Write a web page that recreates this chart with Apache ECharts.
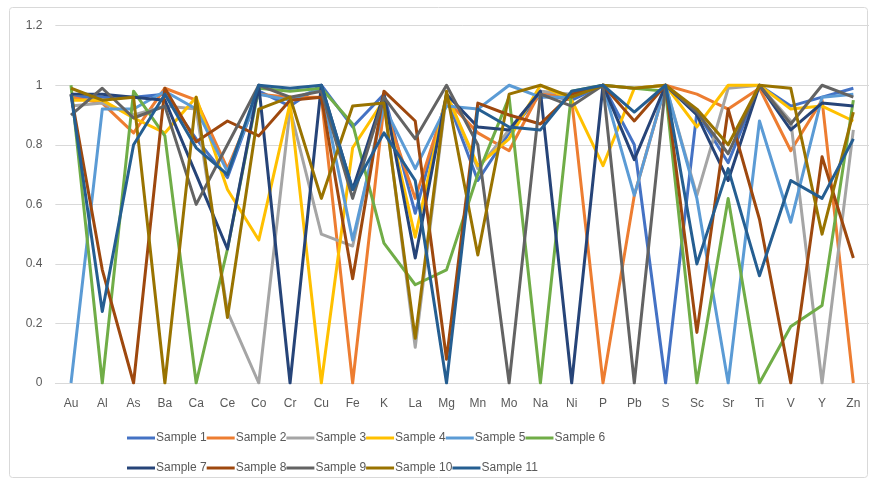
<!DOCTYPE html>
<html>
<head>
<meta charset="utf-8">
<script src="https://cdn.jsdelivr.net/npm/echarts@6/dist/echarts.min.js"></script>
<style>
html,body{margin:0;padding:0;background:#fff;}
#chart{width:876px;height:484px;}
</style>
</head>
<body>
<div id="chart"></div>
<script>
const categories = ["Au","Al","As","Ba","Ca","Ce","Co","Cr","Cu","Fe","K","La","Mg","Mn","Mo","Na","Ni","P","Pb","S","Sc","Sr","Ti","V","Y","Zn"];
const yTicks = [0, 0.2, 0.4, 0.6, 0.8, 1, 1.2];
const seriesNames = ["Sample 1","Sample 2","Sample 3","Sample 4","Sample 5","Sample 6","Sample 7","Sample 8","Sample 9","Sample 10","Sample 11"];
const seriesColors = ["#4472C4","#ED7D31","#A5A5A5","#FFC000","#5B9BD5","#70AD47","#264478","#9E480E","#636363","#997300","#255E91"];

const sample1  = [0.96,0.96,0.96,0.97,0.82,0.69,0.98,0.93,1.00,0.86,0.97,0.57,0.96,0.68,0.84,0.97,0.95,1.00,0.80,0.00,0.91,0.74,1.00,0.93,0.96,0.99];
const sample2  = [0.96,0.94,0.84,0.99,0.95,0.72,0.97,0.96,0.96,0.00,0.93,0.62,0.95,0.84,0.78,0.98,0.95,0.00,0.63,1.00,0.97,0.92,0.99,0.78,0.95,0.00];
const sample3  = [0.93,0.94,0.90,0.93,0.92,0.24,0.00,0.92,0.50,0.46,0.95,0.12,0.97,0.72,0.85,0.98,0.97,1.00,0.99,1.00,0.63,0.99,1.00,0.88,0.00,0.85];
const sample4  = [0.95,0.95,0.89,0.84,0.96,0.65,0.48,0.94,0.00,0.79,0.95,0.49,0.97,0.73,0.82,1.00,0.95,0.73,0.99,1.00,0.86,1.00,1.00,0.92,0.93,0.88];
const sample5  = [0.00,0.92,0.92,0.98,0.92,0.71,0.97,0.95,0.99,0.48,0.93,0.72,0.93,0.92,1.00,0.96,0.96,1.00,0.63,1.00,0.62,0.00,0.88,0.54,0.96,0.97];
const sample6  = [1.00,0.00,0.98,0.83,0.00,0.45,0.99,0.98,0.99,0.87,0.47,0.33,0.38,0.70,0.96,0.00,0.98,1.00,0.99,0.98,0.00,0.62,0.00,0.19,0.26,0.95];
const sample7  = [0.97,0.97,0.96,0.95,0.70,0.45,1.00,0.00,1.00,0.65,0.97,0.42,0.97,0.86,0.85,0.98,0.00,1.00,0.75,1.00,0.90,0.68,1.00,0.85,0.94,0.93];
const sample8  = [0.97,0.38,0.00,0.99,0.81,0.88,0.83,0.95,0.96,0.35,0.98,0.88,0.08,0.94,0.90,0.87,0.97,1.00,0.88,1.00,0.17,0.92,0.55,0.00,0.76,0.42];
const sample9  = [0.90,0.99,0.89,0.93,0.60,0.80,1.00,0.96,0.98,0.62,0.96,0.82,1.00,0.80,0.00,0.97,0.93,1.00,0.00,1.00,0.91,0.77,1.00,0.87,1.00,0.96];
const sample10 = [0.99,0.95,0.96,0.00,0.96,0.22,0.92,0.96,0.62,0.93,0.94,0.15,0.98,0.43,0.97,1.00,0.96,1.00,0.99,1.00,0.92,0.80,1.00,0.99,0.50,0.91];
const sample11 = [0.97,0.24,0.80,0.97,0.79,0.70,1.00,0.99,1.00,0.65,0.84,0.68,0.00,0.92,0.86,0.85,0.98,1.00,0.91,1.00,0.40,0.72,0.36,0.68,0.62,0.82];

const allData = [sample1,sample2,sample3,sample4,sample5,sample6,sample7,sample8,sample9,sample10,sample11];

const chart = echarts.init(document.getElementById('chart'), null, {renderer:'canvas'});
const FONT = 'Liberation Sans, Arial, sans-serif';
const TXT = '#595959';

function legendRow(names, top){
  return {
    data: names,
    left: 122,
    top: top,
    orient: 'horizontal',
    icon: 'rect',
    itemWidth: 28,
    itemHeight: 3,
    itemGap: 0,
    selectedMode: false,
    textStyle: {color: TXT, fontSize: 12, fontFamily: FONT, width: 48, padding: [0,0,0,-4]}
  };
}

chart.setOption({
  animation: false,
  color: seriesColors,
  graphic: [{
    type: 'rect',
    shape: {x: 9.5, y: 7.5, width: 858, height: 470, r: 3},
    style: {fill: 'none', stroke: '#d9d9d9', lineWidth: 1},
    silent: true
  }],
  grid: {left: 55.35, right: 7, top: 25.7, bottom: 101, containLabel: false},
  legend: [
    legendRow(seriesNames.slice(0,6), 427),
    legendRow(seriesNames.slice(6), 457)
  ],
  xAxis: {
    type: 'category',
    data: categories,
    boundaryGap: true,
    axisLine: {show: true, lineStyle: {color: '#d9d9d9', width: 1}},
    axisTick: {show: false},
    axisLabel: {color: TXT, fontSize: 12, fontFamily: FONT, margin: 15, interval: 0},
    splitLine: {show: false}
  },
  yAxis: {
    type: 'value',
    min: yTicks[0],
    max: yTicks[yTicks.length-1],
    interval: 0.2,
    axisLine: {show: false},
    axisTick: {show: false},
    axisLabel: {color: TXT, fontSize: 12, fontFamily: FONT, margin: 13,
      formatter: v => String(Math.round(v*10)/10)},
    splitLine: {show: true, lineStyle: {color: '#d9d9d9', width: 1}}
  },
  series: seriesNames.map((n,i) => ({
    name: n,
    type: 'line',
    data: allData[i],
    showSymbol: false,
    symbol: 'none',
    lineStyle: {width: 3, color: seriesColors[i], join: 'round'},
    itemStyle: {color: seriesColors[i]},
    emphasis: {disabled: true}
  }))
});
</script>
</body>
</html>
